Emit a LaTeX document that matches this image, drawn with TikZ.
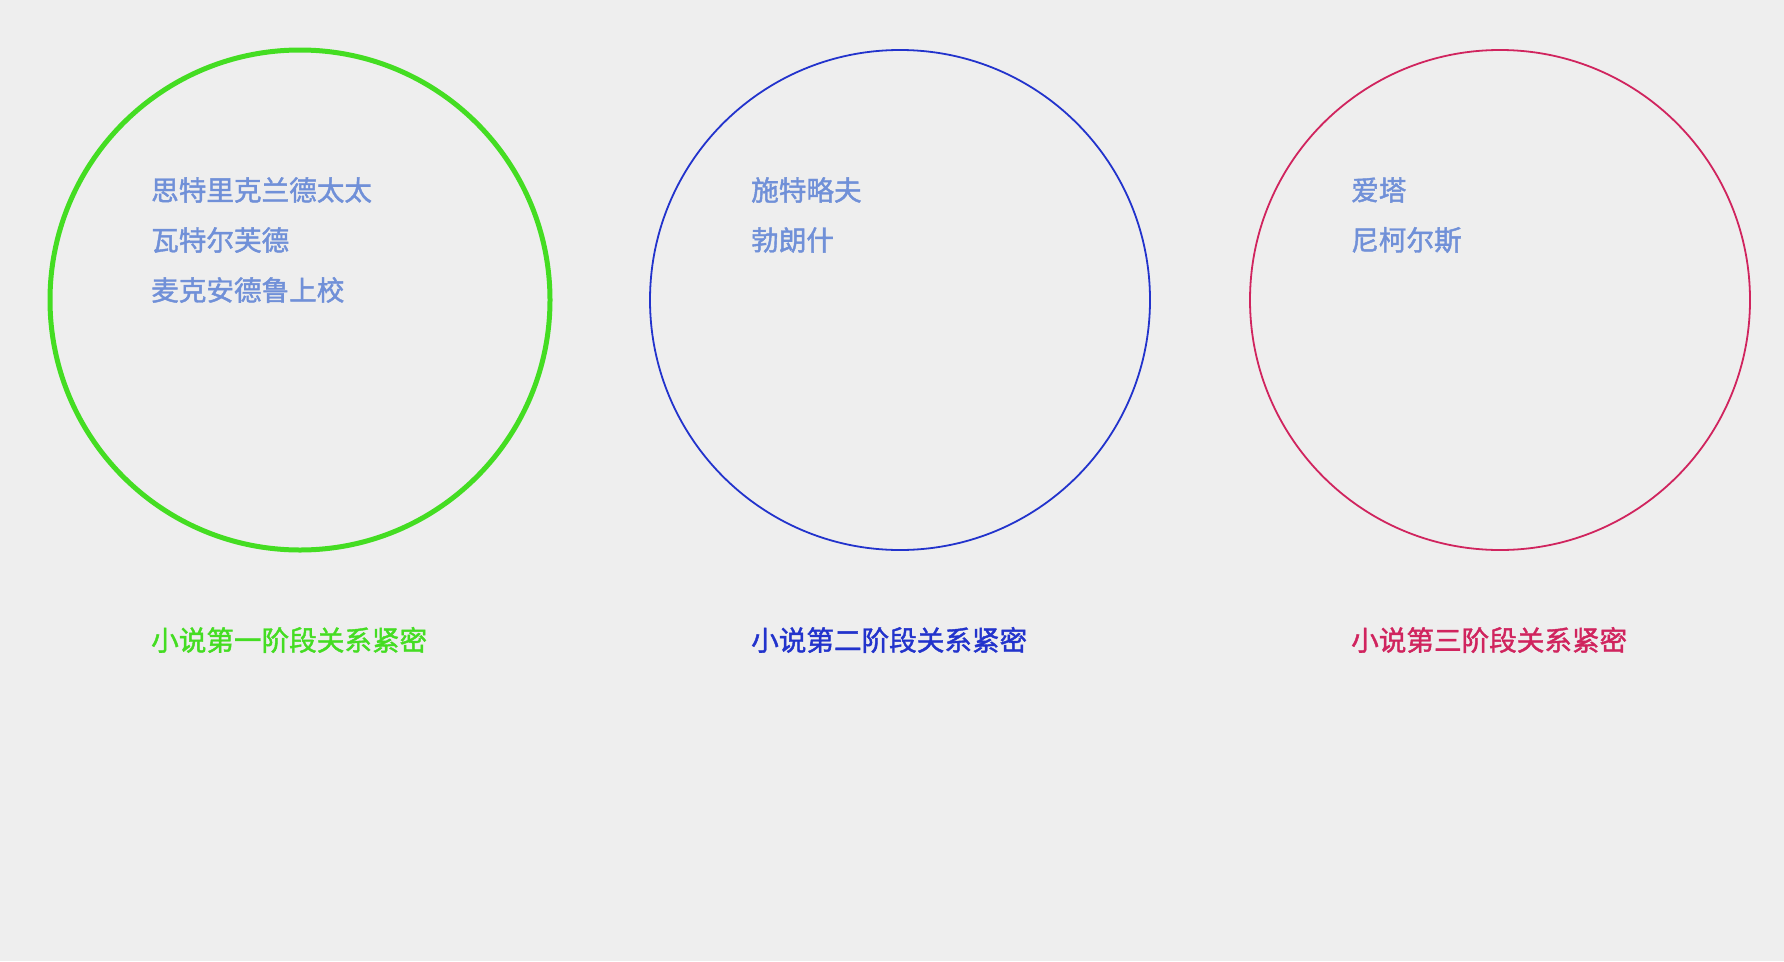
\documentclass[tikz,border=0pt]{standalone}
\usepackage{fontspec}
\newfontfamily\cjk{Noto Sans CJK SC}[FakeBold=1.5]
\definecolor{bg}{HTML}{EEEEEE}
\definecolor{cgreen}{HTML}{44DD22}
\definecolor{cblue}{HTML}{2233CC}
\definecolor{cred}{HTML}{D0245E}
\definecolor{cname}{HTML}{7090D8}
\begin{document}
\begin{tikzpicture}[x=1pt,y=-1pt,
  ring/.style={circle,minimum size=500pt,inner sep=0pt,outer sep=0pt},
  person/.style={anchor=west,inner sep=0pt,text=cname,font=\cjk\fontsize{27.6}{27.6}\selectfont},
  stage/.style={anchor=west,inner sep=0pt,font=\cjk\fontsize{27.6}{27.6}\selectfont}]
\fill[bg] (0,0) rectangle (1784,961);
\useasboundingbox (0,0) rectangle (1784,961);
\node[ring,draw=cgreen,line width=5pt] (c1) at (300,300) {};
\node[ring,draw=cblue,line width=1.8pt] (c2) at (900,300) {};
\node[ring,draw=cred,line width=1.8pt] (c3) at (1500,300) {};
\node[person] (p11) at (151,190) {思特里克兰德太太};
\node[person] (p12) at (151,240) {瓦特尔芙德};
\node[person] (p13) at (151,290) {麦克安德鲁上校};
\node[person] (p21) at (751,190) {施特略夫};
\node[person] (p22) at (751,240) {勃朗什};
\node[person] (p31) at (1351,190) {爱塔};
\node[person] (p32) at (1351,240) {尼柯尔斯};
\node[stage,text=cgreen] (s1) at (151,640) {小说第一阶段关系紧密};
\node[stage,text=cblue] (s2) at (751,640) {小说第二阶段关系紧密};
\node[stage,text=cred] (s3) at (1351,640) {小说第三阶段关系紧密};
\end{tikzpicture}
\end{document}
